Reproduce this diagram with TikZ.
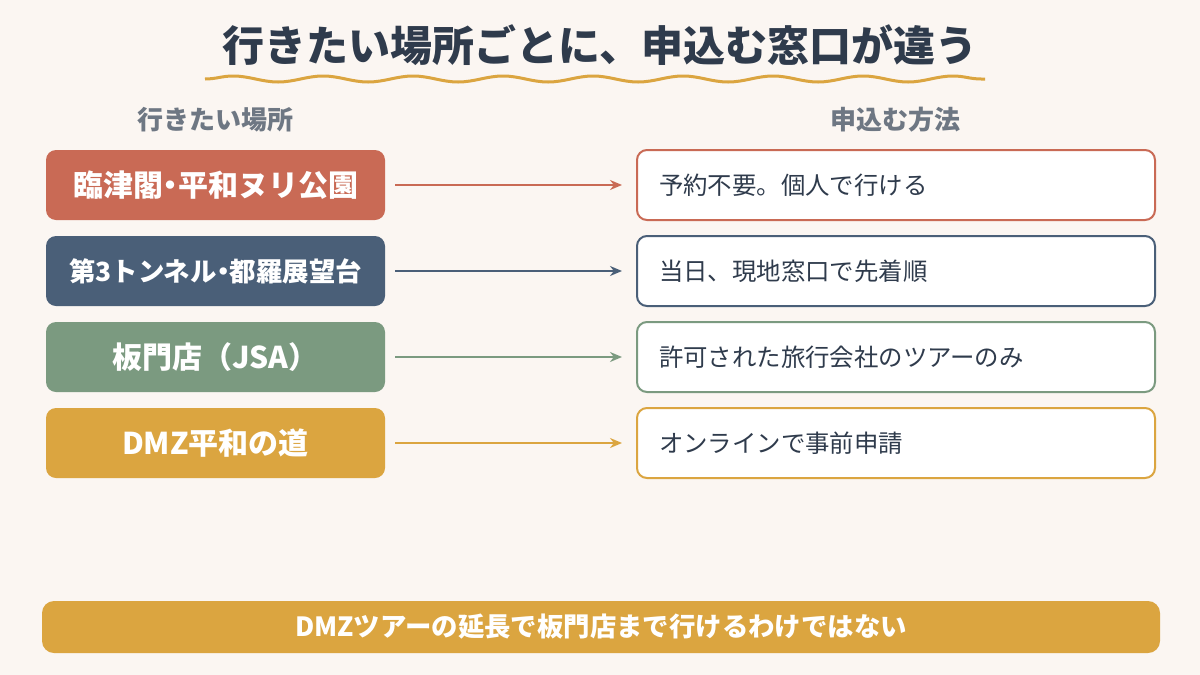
\documentclass[tikz,border=0pt]{standalone}
\usepackage{fontspec}
\setmainfont{Noto Sans CJK JP}
\usetikzlibrary{decorations.pathmorphing,arrows.meta}
\definecolor{bg}{HTML}{FBF6F2}
\definecolor{ink}{HTML}{2F3B4C}
\definecolor{sub}{HTML}{6E7783}
\definecolor{cRed}{HTML}{C96A55}
\definecolor{cBlue}{HTML}{4A5F78}
\definecolor{cGreen}{HTML}{7B9A80}
\definecolor{cGold}{HTML}{DBA540}
\begin{document}
\begin{tikzpicture}[x=0.5pt,y=-0.5pt]
    \tikzstyle{place}=[rounded corners=5pt,minimum width=169.5pt,minimum height=35pt,text=white,font=\bfseries\fontsize{15}{17}\selectfont,inner sep=0pt]
    \tikzstyle{method}=[rounded corners=5pt,minimum width=259pt,minimum height=35pt,fill=white,line width=1pt,inner sep=0pt]
    \tikzstyle{head}=[font=\bfseries\fontsize{13}{15}\selectfont,text=sub]
    \tikzstyle{link}=[-{Stealth[length=6pt,width=5pt]},line width=0.9pt]

    \fill[bg] (0,0) rectangle (1200,675);
    \node[font=\bfseries\fontsize{21}{24}\selectfont,text=ink] (title) at (600,45) {行きたい場所ごとに、申込む窓口が違う};
    \draw[cGold,line width=1.5pt,decorate,decoration={snake,amplitude=1.5pt,segment length=45pt}] (205,79) -- (985,79);

    \node[head] (hl) at (215,120) {行きたい場所};
    \node[head] (hr) at (895,120) {申込む方法};

    \foreach \name/\y/\col/\place/\how in {
        1/185/cRed/臨津閣{\kern-0.25em}・{\kern-0.25em}平和ヌリ公園/予約不要。個人で行ける,
        2/271/cBlue/{\fontsize{13.2}{15}\selectfont 第3トンネル{\kern-0.25em}・{\kern-0.25em}都羅展望台}/当日、現地窓口で先着順,
        3/357/cGreen/板門店（JSA）/許可された旅行会社のツアーのみ,
        4/443/cGold/DMZ平和の道/オンラインで事前申請} {
        \node[place,fill=\col] (P-\name) at (215.5,\y) {\place};
        \node[method,draw=\col] (M-\name) at (896,\y) {};
        \node[anchor=west,font=\fontsize{12.2}{14}\selectfont,text=ink] (T-\name) at (652,\y) {\how};
        \draw[link,\col] ([xshift=5pt]P-\name.east) -- ([xshift=-7pt]M-\name.west);
    }

    \node[fill=cGold,rounded corners=6pt,minimum width=559pt,minimum height=26pt,inner sep=0pt,text=white,font=\bfseries\fontsize{13.2}{15}\selectfont] (note) at (601,627) {DMZツアーの延長で板門店まで行けるわけではない};
\end{tikzpicture}
\end{document}
